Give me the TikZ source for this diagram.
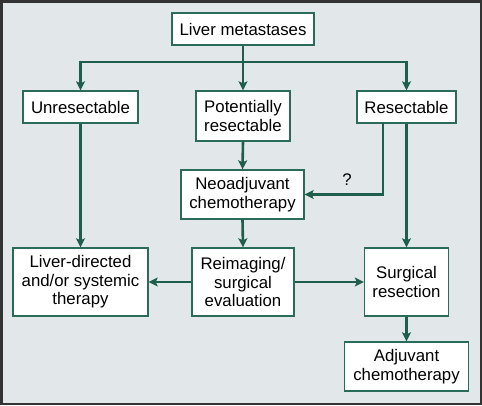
\documentclass[tikz,border=0pt]{standalone}
\usepackage{fontspec}
\setmainfont{Liberation Sans}
\usetikzlibrary{arrows.meta}
\definecolor{bg}{HTML}{E2E8E9}
\definecolor{conncol}{HTML}{1F5E4B}
\definecolor{boxcol}{HTML}{2B6B5A}
\begin{document}
\begin{tikzpicture}[x=1pt,y=-1pt,
 box/.style={draw=boxcol,line width=1.4pt,fill=white,align=center,inner sep=0pt,font=\fontsize{16.8}{18.5}\selectfont},
 conn/.style={draw=conncol,line width=2.6pt,-{Stealth[length=9pt,width=9pt,inset=2pt]}},
 plain/.style={draw=conncol,line width=2.6pt}]
\useasboundingbox (0,0) rectangle (482,405);
\path[fill=bg,draw=black!80,line width=2.5pt] (1.25,1.25) rectangle (480.75,403.75);
\node[box,minimum width=142pt,minimum height=32pt] (lm) at (243,29) {Liver metastases};
\node[box,minimum width=115pt,minimum height=32pt] (un) at (80.5,107) {Unresectable};
\node[box,minimum width=94pt,minimum height=50pt] (pr) at (243,116) {Potentially\\resectable};
\node[box,minimum width=99pt,minimum height=32pt] (re) at (406.5,107) {Resectable};
\node[box,minimum width=123pt,minimum height=49pt] (neo) at (242.5,194.5) {Neoadjuvant\\chemotherapy};
\node[box,minimum width=135pt,minimum height=68pt] (ld) at (80.5,282) {Liver-directed\\and/or systemic\\therapy};
\node[box,minimum width=102pt,minimum height=68pt] (ri) at (243,282) {Reimaging/\\surgical\\evaluation};
\node[box,minimum width=84pt,minimum height=68pt] (sr) at (406.5,282) {Surgical\\resection};
\node[box,minimum width=124pt,minimum height=49pt] (adj) at (406.5,366.5) {Adjuvant\\chemotherapy};
\coordinate (j) at (243,62);
\coordinate (qa) at (383,123);
\node[font=\fontsize{16.8}{18.5}\selectfont,inner sep=0pt] (q) at (347,180) {?};
\draw[plain] (lm.south) -- (j);
\draw[conn] (j) -| (un.north);
\draw[conn] (j) -| (re.north);
\draw[conn] (j) -- (pr.north);
\draw[conn] (un.south) -- (ld.north);
\draw[conn] (pr.south) -- (neo.north);
\draw[conn] (neo.south) -- (ri.north);
\draw[conn] (re.south) -- (sr.north);
\draw[conn] (qa) |- (neo.east);
\draw[conn] (ri.west) -- (ld.east);
\draw[conn] (ri.east) -- (sr.west);
\draw[conn] (sr.south) -- (adj.north);
\end{tikzpicture}
\end{document}
